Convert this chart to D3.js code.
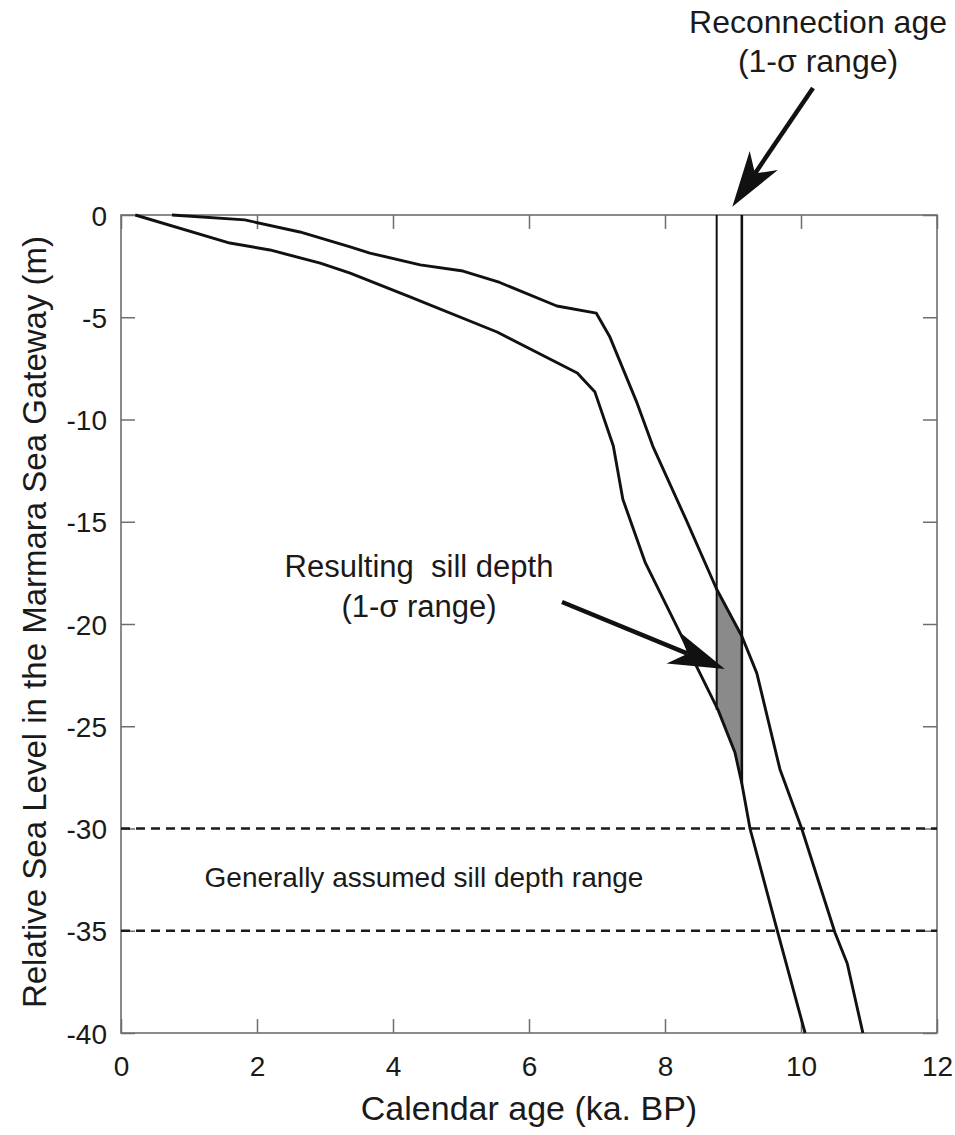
<!DOCTYPE html>
<html>
<head>
<meta charset="utf-8">
<script src="https://cdn.jsdelivr.net/npm/d3@7"></script>
<style>
  html, body { margin: 0; padding: 0; background: #fff; }
  svg { display: block; font-family: "Liberation Sans", Arial, Helvetica, sans-serif; }
  .tick text { fill: #1a1a1a; }
</style>
</head>
<body>
<div id="chart"></div>
<script>
// ---- data ----
// upper (shallower) envelope of the sea-level curve
const upperAge   = [0.75, 1.82, 2.63, 3.37, 3.66, 4.40, 5.03, 5.57, 6.41, 6.99, 7.19, 7.59, 7.82, 8.31, 8.76, 9.13, 9.35, 9.69, 10.01, 10.50, 10.68, 10.91];
const upperLevel = [0, -0.24, -0.83, -1.56, -1.86, -2.44, -2.74, -3.3, -4.45, -4.8, -5.97, -9.2, -11.3, -14.9, -18.3, -20.6, -22.4, -27.1, -30, -35.1, -36.6, -40];
// lower (deeper) envelope
const lowerAge   = [0.21, 1.60, 2.19, 2.93, 3.37, 4.25, 5.53, 6.71, 6.97, 7.24, 7.38, 7.71, 8.78, 9.03, 9.13, 9.25, 9.66, 10.06];
const lowerLevel = [0, -1.37, -1.71, -2.35, -2.84, -4.0, -5.72, -7.73, -8.66, -11.3, -13.9, -17.0, -24.2, -26.3, -27.8, -30, -35.1, -40];
// reconnection age, 1-sigma range, and where each bound meets the lower curve
const reconAge    = [8.76, 9.13];
const reconBottom = [-24.2, -27.8];
// generally assumed sill depth range
const sillRange = [-30, -35];
const xTicks = [0, 2, 4, 6, 8, 10, 12];
const yTicks = [0, -5, -10, -15, -20, -25, -30, -35, -40];

const W = 955, H = 1135;
const M = { top: 215, right: 18, bottom: 102, left: 121 };

const x = d3.scaleLinear().domain([0, 12]).range([M.left, W - M.right]);
const y = d3.scaleLinear().domain([0, -40]).range([M.top, H - M.bottom]);

const svg = d3.select("#chart").append("svg")
  .attr("width", W).attr("height", H);

const upper = upperAge.map((a, i) => [a, upperLevel[i]]);
const lower = lowerAge.map((a, i) => [a, lowerLevel[i]]);
const line = d3.line().x(d => x(d[0])).y(d => y(d[1]));

// grey band: area between the envelopes, clipped to the reconnection age range
svg.append("clipPath").attr("id", "recon-clip")
  .append("rect")
  .attr("x", x(reconAge[0])).attr("y", M.top)
  .attr("width", x(reconAge[1]) - x(reconAge[0]))
  .attr("height", y(-40) - M.top);

svg.append("path")
  .attr("d", line(upper.concat(lower.slice().reverse())) + "Z")
  .attr("fill", "#8a8a8a")
  .attr("clip-path", "url(#recon-clip)");

// axes (ticks pointing inward on all four sides)
const fmt = d => String(d);
const gx = svg.append("g").attr("transform", `translate(0,${y(-40)})`)
  .call(d3.axisBottom(x).tickValues(xTicks).tickFormat(fmt).tickSize(-14).tickSizeOuter(0).tickPadding(23));
const gxTop = svg.append("g").attr("transform", `translate(0,${y(0)})`)
  .call(d3.axisTop(x).tickValues(xTicks).tickSize(-14).tickSizeOuter(0).tickFormat(""));
const gy = svg.append("g").attr("transform", `translate(${x(0)},0)`)
  .call(d3.axisLeft(y).tickValues(yTicks).tickFormat(fmt).tickSize(-14).tickSizeOuter(0).tickPadding(14));
const gyR = svg.append("g").attr("transform", `translate(${x(12)},0)`)
  .call(d3.axisRight(y).tickValues(yTicks).tickSize(-14).tickSizeOuter(0).tickFormat(""));

[gx, gxTop, gy, gyR].forEach(g => {
  g.select(".domain").remove();
  g.selectAll(".tick line").attr("stroke", "#6e6e6e").attr("stroke-width", 1.5);
  g.selectAll(".tick text").attr("font-size", 28).attr("font-family", null);
});
gy.selectAll(".tick text").attr("dy", "0.36em");

svg.append("rect")
  .attr("x", x(0)).attr("y", y(0))
  .attr("width", x(12) - x(0)).attr("height", y(-40) - y(0))
  .attr("fill", "none").attr("stroke", "#6e6e6e").attr("stroke-width", 1.6);

// dashed sill-depth lines
svg.selectAll("line.sill").data(sillRange).join("line")
  .attr("class", "sill")
  .attr("x1", x(0)).attr("x2", x(12))
  .attr("y1", d => y(d)).attr("y2", d => y(d))
  .attr("stroke", "#1a1a1a").attr("stroke-width", 2.6)
  .attr("stroke-dasharray", "9,6");

// reconnection age bounds
svg.selectAll("line.recon").data(reconAge).join("line")
  .attr("class", "recon")
  .attr("x1", d => x(d)).attr("x2", d => x(d))
  .attr("y1", y(0)).attr("y2", (d, i) => y(reconBottom[i]))
  .attr("stroke", "#111").attr("stroke-width", (d, i) => i === 0 ? 2 : 2.6);

// sea-level envelopes
[upper, lower].forEach(pts => {
  svg.append("path").attr("d", line(pts))
    .attr("fill", "none").attr("stroke", "#111")
    .attr("stroke-width", 2.9).attr("stroke-linejoin", "round");
});

// ---- annotations ----
function arrow(x1, y1, x2, y2) {
  const dx = x2 - x1, dy = y2 - y1, len = Math.hypot(dx, dy);
  const ux = dx / len, uy = dy / len, nx = -uy, ny = ux;
  const L = 56, hw = 17;
  const bx = x2 - ux * L, by = y2 - uy * L;
  const nX = x2 - ux * L * 0.72, nY = y2 - uy * L * 0.72;
  svg.append("line")
    .attr("x1", x1).attr("y1", y1).attr("x2", nX).attr("y2", nY)
    .attr("stroke", "#111").attr("stroke-width", 4.5);
  svg.append("path")
    .attr("d", `M${x2},${y2}L${bx + nx * hw},${by + ny * hw}L${nX},${nY}L${bx - nx * hw},${by - ny * hw}Z`)
    .attr("fill", "#111");
}

function label(lines, cx, y0, fs, gap) {
  const t = svg.append("text")
    .attr("text-anchor", "middle").attr("font-size", fs)
    .attr("fill", "#1a1a1a").style("white-space", "pre");
  lines.forEach((s, i) => t.append("tspan").attr("x", cx).attr("y", y0 + i * gap).text(s));
}

label(["Reconnection age", "(1-σ range)"], 818, 33, 32, 39);
arrow(813, 88, x(8.99), y(0.4));

label(["Resulting  sill depth", "(1-σ range)"], 419, 577, 31, 40);
arrow(562, 602, x(8.88), y(-22.2));

label(["Generally assumed sill depth range"], 424, 887, 28, 0);

// axis titles
svg.append("text")
  .attr("x", (x(0) + x(12)) / 2).attr("y", 1120)
  .attr("text-anchor", "middle").attr("font-size", 34).attr("fill", "#1a1a1a")
  .text("Calendar age (ka. BP)");

svg.append("text")
  .attr("transform", `translate(46,${(y(0) + y(-40)) / 2 - 2}) rotate(-90)`)
  .attr("text-anchor", "middle").attr("font-size", 33).attr("fill", "#1a1a1a")
  .text("Relative Sea Level in the Marmara Sea Gateway (m)");
</script>
</body>
</html>
